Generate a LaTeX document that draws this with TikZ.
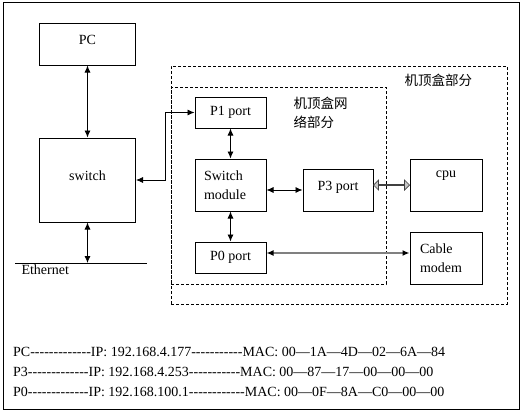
\documentclass[tikz,border=0pt]{standalone}
\usepackage{fontspec}
\setmainfont{Liberation Serif}[Ligatures=TeXOff]
\newfontfamily\cjk{Noto Sans CJK SC}
\usetikzlibrary{calc,arrows.meta,shapes.arrows}
\tikzset{
    component/.style={
    rectangle,draw=black,line width=1pt,inner sep=3pt
    },
    dcomponent/.style={
    rectangle,draw=black,line width=0.8pt,dash pattern=on 3pt off 2pt
    },
    link/.style={
    line width=0.8pt,{Latex[length=7pt,width=6pt]}-{Latex[length=7pt,width=6pt]}
    },
    glink/.style={
    draw=gray,line width=1.6pt,
    {Latex[length=7pt,width=6pt,color=black]}-{Latex[length=7pt,width=6pt,color=black]}
    },
    dblarrow/.style={
    double arrow,draw=black!75,fill=gray!45,line width=0.7pt,inner sep=0pt,
    minimum width=10pt,double arrow head extend=3pt
    },
    info/.style={
    anchor=west,inner sep=0pt
    },
}

\begin{document}
\begin{tikzpicture}[x=1pt, y=-1pt, every node/.style={font=\fontsize{14}{19}\selectfont}]
   \useasboundingbox (0,0) rectangle (524,412);
   \draw[line width=1pt] (3,3) rectangle (519,409);
   %set-top box frames
   \node[dcomponent, minimum width=336pt, minimum height=238pt] (stb) at (339,185) {};
   \node[dcomponent, minimum width=215pt, minimum height=197pt] (stbnet) at (278.5,185.5) {};
   \node[anchor=west, font=\cjk\fontsize{13.5}{19}\selectfont] (stblbl) at (401,80) {机顶盒部分};
   \node[anchor=west, align=left, font=\cjk\fontsize{13.5}{19}\selectfont] (stbnetlbl) at (290,112.5) {机顶盒网\\络部分};
   %pc
   \node[component, minimum width=96pt, minimum height=41pt, text height=10pt, text depth=10pt] (pc) at (87.5,44.5) {PC};
   %switch
   \node[component, minimum width=96pt, minimum height=84pt, text height=10pt, text depth=10pt] (switch) at (87.5,180) {switch};
   %ethernet
   \coordinate (ethl) at (15,263);
   \coordinate (ethr) at (147,263);
   \coordinate (eth) at (87.5,263);
   \node[anchor=west] (ethlbl) at (18,270) {Ethernet};
   %ports
   \node[component, minimum width=71pt, minimum height=31pt] (p1) at (230.5,112.5) {P1 port};
   \node[component, minimum width=71pt, minimum height=52pt, text width=53pt, inner xsep=9pt, align=left] (swmod) at (230.5,185) {Switch\\module};
   \node[component, minimum width=70pt, minimum height=42pt, text height=10pt, text depth=10pt] (p3) at (338,190) {P3 port};
   \node[component, minimum width=71pt, minimum height=31pt] (p0) at (230.5,257.5) {P0 port};
   %cpu
   \node[component, minimum width=72pt, minimum height=52pt, text height=8pt, text depth=24pt] (cpu) at (446,185) {cpu};
   %modem
   \node[component, minimum width=72pt, minimum height=52pt, text width=52pt, inner xsep=10pt, align=left] (modem) at (446,258) {Cable\\modem};
   %addresses
   \node[info] (infopc) at (13,352) {PC-------------IP: 192.168.4.177-----------MAC: 00—1A—4D—02—6A—84};
   \node[info] (infop3) at (13,372) {P3-------------IP: 192.168.4.253-----------MAC: 00—87—17—00—00—00};
   \node[info] (infop0) at (13,392) {P0-------------IP: 192.168.100.1------------MAC: 00—0F—8A—C0—00—00};

   \draw[line width=1pt] (ethl) -- (ethr);
   \draw[link] (pc) -- (switch);
   \draw[link] (switch) -- (eth);
   \draw[link] (switch.east) -- ++(29,0) |- (p1);
   \draw[link] (p1) -- (swmod);
   \draw[link] (swmod.east |- p3) -- (p3);
   \draw[link] (swmod) -- (p0);
   \draw[glink] ($(p0.east)+(0,-4.5)$) -- ($(modem.west)+(0,-5)$);
   \path (p3.east |- cpu) -- (cpu.west) node[dblarrow, midway, minimum height=36pt] (p3cpu) {};
\end{tikzpicture}
\end{document}
